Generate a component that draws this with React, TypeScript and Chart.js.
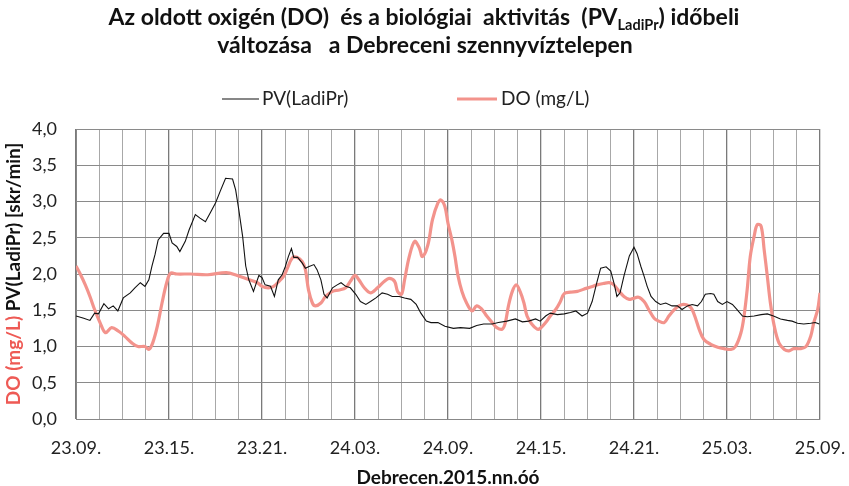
import React, { useEffect, useRef } from 'react';
import { Chart, registerables } from 'chart.js';

Chart.register(...registerables);

// ---------- data ----------
const xTickLabels = ['23.09.', '23.15.', '23.21.', '24.03.', '24.09.', '24.15.', '24.21.', '25.03.', '25.09.'];
const yTickValues = [0, 0.5, 1, 1.5, 2, 2.5, 3, 3.5, 4];

const titleLine1Before = 'Az oldott oxigén (DO)  és a biológiai  aktivitás  (PV';
const titleLine1Sub = 'LadiPr';
const titleLine1After = ') időbeli';
const titleLine2 = 'változása   a Debreceni szennyvíztelepen';
const yTitleRed = 'DO (mg/L)';
const yTitleBlack = ' PV(LadiPr) [skr/min]';
const xTitle = 'Debrecen.2015.nn.óó';
const seriesNames = ['PV(LadiPr)', 'DO (mg/L)'];

// hours elapsed since 23.09.
const pvHours = [0, 0.5, 0.9, 1.2, 1.45, 1.8, 2.1, 2.4, 2.7, 3.05, 3.5, 3.8, 4.15, 4.45, 4.7, 4.9, 5.1, 5.3, 5.65, 6.0, 6.2, 6.5, 6.7, 7.05, 7.3, 7.7, 8.0, 8.35, 8.7, 9.0, 9.3, 9.65, 10.1, 10.3, 10.5, 10.75, 10.95, 11.15, 11.45, 11.7, 11.8, 12.0, 12.2, 12.55, 12.8, 13.05, 13.3, 13.5, 13.7, 13.9, 14.05, 14.3, 14.6, 14.8, 15.0, 15.35, 15.55, 15.8, 16.0, 16.2, 16.55, 16.85, 17.1, 17.4, 17.7, 18.05, 18.35, 18.7, 19.0, 19.35, 19.75, 20.1, 20.4, 20.85, 21.2, 21.6, 21.95, 22.25, 22.6, 22.9, 23.35, 23.8, 24.35, 24.8, 25.4, 25.85, 26.3, 26.85, 27.25, 27.8, 28.35, 28.8, 29.2, 29.65, 29.95, 30.3, 30.6, 31.05, 31.5, 31.9, 32.25, 32.65, 33.0, 33.3, 33.6, 33.85, 34.2, 34.5, 34.7, 34.9, 35.1, 35.35, 35.7, 36.0, 36.2, 36.45, 36.65, 36.85, 37.1, 37.4, 37.7, 38.05, 38.45, 38.8, 39.1, 39.45, 39.75, 40.1, 40.35, 40.6, 40.95, 41.15, 41.4, 41.7, 42.0, 42.35, 42.65, 43.0, 43.3, 43.75, 44.2, 44.6, 45.0, 45.45, 45.9, 46.2, 46.55, 46.95, 47.4, 47.7, 47.95];
const pvValues = [1.42, 1.39, 1.36, 1.46, 1.45, 1.59, 1.52, 1.56, 1.49, 1.67, 1.74, 1.81, 1.88, 1.83, 1.92, 2.11, 2.27, 2.47, 2.56, 2.56, 2.43, 2.38, 2.31, 2.45, 2.61, 2.82, 2.77, 2.72, 2.86, 2.98, 3.14, 3.32, 3.31, 3.16, 2.89, 2.52, 2.11, 1.92, 1.76, 1.92, 1.98, 1.95, 1.85, 1.83, 1.69, 1.92, 1.99, 2.1, 2.24, 2.35, 2.23, 2.23, 2.15, 2.08, 2.1, 2.13, 2.06, 1.92, 1.72, 1.67, 1.81, 1.85, 1.88, 1.83, 1.81, 1.72, 1.62, 1.58, 1.62, 1.67, 1.74, 1.72, 1.69, 1.69, 1.67, 1.65, 1.58, 1.46, 1.35, 1.33, 1.33, 1.28, 1.25, 1.26, 1.25, 1.29, 1.31, 1.31, 1.33, 1.35, 1.38, 1.34, 1.35, 1.38, 1.35, 1.42, 1.46, 1.44, 1.45, 1.47, 1.49, 1.42, 1.46, 1.62, 1.88, 2.08, 2.1, 2.04, 1.88, 1.69, 1.74, 1.97, 2.25, 2.37, 2.28, 2.1, 1.97, 1.83, 1.69, 1.62, 1.58, 1.6, 1.56, 1.56, 1.51, 1.56, 1.58, 1.56, 1.62, 1.72, 1.73, 1.72, 1.62, 1.58, 1.62, 1.58, 1.51, 1.42, 1.41, 1.42, 1.44, 1.45, 1.42, 1.38, 1.36, 1.35, 1.32, 1.31, 1.32, 1.33, 1.31];

const doHours = [0, 0.25, 0.6, 0.9, 1.2, 1.55, 1.9, 2.3, 2.75, 3.15, 3.6, 4.0, 4.45, 4.7, 4.95, 5.25, 5.55, 5.85, 6.1, 6.5, 7.4, 8.5, 9.7, 10.4, 11.05, 11.7, 12.0, 12.4, 12.75, 13.1, 13.4, 13.6, 13.95, 14.25, 14.6, 14.8, 15.0, 15.25, 15.45, 15.8, 16.1, 16.55, 17.0, 17.4, 17.7, 18.0, 18.25, 18.6, 19.0, 19.45, 19.9, 20.2, 20.55, 20.75, 21.0, 21.2, 21.5, 21.85, 22.15, 22.35, 22.7, 23.0, 23.35, 23.55, 23.8, 24.0, 24.25, 24.45, 24.65, 24.9, 25.2, 25.55, 25.85, 26.2, 26.5, 26.85, 27.15, 27.5, 27.7, 27.9, 28.15, 28.4, 28.65, 28.9, 29.1, 29.4, 29.75, 29.95, 30.3, 30.6, 30.95, 31.25, 31.5, 31.9, 32.35, 32.75, 33.2, 33.6, 34.05, 34.4, 34.7, 35.05, 35.35, 35.7, 35.9, 36.3, 36.65, 36.95, 37.3, 37.6, 37.95, 38.25, 38.6, 38.9, 39.2, 39.55, 39.75, 40.0, 40.2, 40.5, 40.95, 41.4, 41.8, 42.25, 42.55, 42.9, 43.1, 43.3, 43.5, 43.75, 43.95, 44.2, 44.4, 44.6, 44.8, 45.05, 45.35, 45.7, 46.0, 46.3, 46.75, 47.1, 47.4, 47.6, 47.85, 48.0];
const doValues = [2.11, 2.01, 1.85, 1.69, 1.51, 1.33, 1.19, 1.26, 1.21, 1.14, 1.05, 1.0, 1.0, 0.96, 1.05, 1.28, 1.6, 1.88, 2.01, 2.0, 2.0, 1.99, 2.02, 1.98, 1.93, 1.88, 1.83, 1.81, 1.83, 1.9, 1.97, 2.06, 2.22, 2.23, 2.17, 2.06, 1.78, 1.6, 1.56, 1.6, 1.69, 1.76, 1.78, 1.81, 1.9, 1.98, 1.92, 1.81, 1.74, 1.81, 1.9, 1.94, 1.9, 1.76, 1.72, 1.92, 2.24, 2.45, 2.36, 2.24, 2.4, 2.75, 2.98, 3.02, 2.93, 2.7, 2.47, 2.24, 1.97, 1.76, 1.6, 1.49, 1.56, 1.51, 1.42, 1.33, 1.26, 1.24, 1.33, 1.56, 1.76, 1.85, 1.76, 1.6, 1.42, 1.31, 1.24, 1.25, 1.33, 1.42, 1.51, 1.62, 1.73, 1.75, 1.76, 1.79, 1.82, 1.85, 1.87, 1.88, 1.85, 1.76, 1.69, 1.65, 1.66, 1.68, 1.62, 1.51, 1.39, 1.35, 1.33, 1.42, 1.51, 1.56, 1.58, 1.56, 1.51, 1.37, 1.24, 1.1, 1.03, 0.99, 0.97, 0.96, 1.0, 1.19, 1.42, 1.78, 2.24, 2.52, 2.68, 2.66, 2.33, 1.97, 1.6, 1.28, 1.05, 0.96, 0.94, 0.97, 0.97, 1.0, 1.14, 1.33, 1.51, 1.74];

// ---------- styling ----------
const FONT = 'Lato';
const PV_COLOR = '#111111';
const DO_COLOR = '#F3938C';
const DO_TITLE_COLOR = '#EE5A55';

const decorPlugin = {
  id: 'decor',
  afterDraw(chart: any) {
    const ctx: CanvasRenderingContext2D = chart.ctx;
    ctx.save();
    ctx.textBaseline = 'middle';
    ctx.fillStyle = '#111';

    // title line 1 with subscript
    const big = `bold 23px ${FONT}`;
    const small = `bold 14.5px ${FONT}`;
    ctx.font = big;
    const wA = ctx.measureText(titleLine1Before).width;
    const wC = ctx.measureText(titleLine1After).width;
    ctx.font = small;
    const wB = ctx.measureText(titleLine1Sub).width;
    let x = 424 - (wA + wB + wC) / 2;
    const y1 = 18;
    ctx.textAlign = 'left';
    ctx.font = big;
    ctx.fillText(titleLine1Before, x, y1);
    x += wA;
    ctx.font = small;
    ctx.fillText(titleLine1Sub, x, y1 + 7);
    x += wB;
    ctx.font = big;
    ctx.fillText(titleLine1After, x, y1);

    ctx.textAlign = 'center';
    ctx.fillText(titleLine2, 425, 46);

    // legend
    const ly = 99;
    ctx.strokeStyle = PV_COLOR;
    ctx.lineWidth = 1.2;
    ctx.beginPath();
    ctx.moveTo(222, ly);
    ctx.lineTo(259, ly);
    ctx.stroke();
    ctx.strokeStyle = DO_COLOR;
    ctx.lineWidth = 3;
    ctx.beginPath();
    ctx.moveTo(457, ly);
    ctx.lineTo(497, ly);
    ctx.stroke();
    ctx.font = `19px ${FONT}`;
    ctx.textAlign = 'left';
    ctx.fillStyle = '#222';
    ctx.fillText(seriesNames[0], 262, ly);
    ctx.fillText(seriesNames[1], 501, ly);

    // y-axis title (two colours, rotated)
    const area = chart.chartArea;
    const cy = (area.top + area.bottom) / 2;
    ctx.font = `bold 19px ${FONT}`;
    const w1 = ctx.measureText(yTitleRed).width;
    const w2 = ctx.measureText(yTitleBlack).width;
    ctx.translate(14, cy);
    ctx.rotate(-Math.PI / 2);
    ctx.textAlign = 'left';
    const sx = -(w1 + w2) / 2;
    ctx.fillStyle = DO_TITLE_COLOR;
    ctx.fillText(yTitleRed, sx, 0);
    ctx.fillStyle = '#111';
    ctx.fillText(yTitleBlack, sx + w1, 0);
    ctx.restore();
  },
};

export default function App() {
  const canvasRef = useRef<HTMLCanvasElement | null>(null);

  useEffect(() => {
    if (!canvasRef.current) return;
    const pvData = pvHours.map((h, i) => ({ x: h, y: pvValues[i] }));
    const doData = doHours.map((h, i) => ({ x: h, y: doValues[i] }));
    const isMajor = (v: number) => Math.abs(v / 6 - Math.round(v / 6)) < 1e-6;

    const chart = new Chart(canvasRef.current, {
      type: 'line',
      data: {
        datasets: [
          {
            label: seriesNames[0],
            data: pvData,
            borderColor: PV_COLOR,
            backgroundColor: PV_COLOR,
            borderWidth: 1.1,
            pointRadius: 0,
            tension: 0,
          },
          {
            label: seriesNames[1],
            data: doData,
            borderColor: DO_COLOR,
            backgroundColor: DO_COLOR,
            borderWidth: 3.2,
            pointRadius: 0,
            tension: 0.35,
          },
        ],
      },
      options: {
        animation: false,
        responsive: true,
        maintainAspectRatio: false,
        layout: { padding: { top: 129, left: 0, right: 29, bottom: 0 } },
        plugins: {
          legend: { display: false },
          title: { display: false },
          tooltip: { enabled: false },
        },
        scales: {
          x: {
            type: 'linear',
            min: 0,
            max: 48,
            afterFit: (scale: any) => {
              scale.height = 67;
              scale.paddingLeft = 0;
              scale.paddingRight = 0;
            },
            afterBuildTicks: (scale: any) => {
              const t = [];
              for (let i = 0; i <= 32; i++) t.push({ value: i * 1.5 });
              scale.ticks = t;
            },
            ticks: {
              autoSkip: false,
              maxRotation: 0,
              padding: 18,
              color: '#222',
              font: { family: FONT, size: 18 },
              callback: (v: any) => (isMajor(Number(v)) ? xTickLabels[Math.round(Number(v) / 6)] : ''),
            },
            grid: {
              drawTicks: false,
              color: (c: any) => (isMajor(c.tick.value) ? '#7a7a7a' : '#a8a8a8'),
              lineWidth: (c: any) => (isMajor(c.tick.value) ? 1.3 : 1),
            },
            border: { color: '#888', width: 1 },
            title: {
              display: true,
              text: xTitle,
              color: '#111',
              font: { family: FONT, size: 19, weight: 'bold' },
              padding: { top: 0, bottom: -3 },
            },
          },
          y: {
            type: 'linear',
            min: 0,
            max: 4,
            afterFit: (scale: any) => {
              scale.width = 76;
              scale.paddingTop = 0;
              scale.paddingBottom = 0;
            },
            afterBuildTicks: (scale: any) => {
              scale.ticks = yTickValues.map((v) => ({ value: v }));
            },
            ticks: {
              padding: 19,
              color: '#222',
              font: { family: FONT, size: 18 },
              callback: (v: any) => Number(v).toFixed(1).replace('.', ','),
            },
            grid: { drawTicks: false, color: '#8a8a8a', lineWidth: 1 },
            border: { color: '#888', width: 1 },
          },
        },
      },
      plugins: [decorPlugin],
    });
    return () => chart.destroy();
  }, []);

  return (
    <div style={{ position: 'fixed', left: 0, top: 0, width: 849, height: 486, background: '#fff' }}>
      <canvas ref={canvasRef} />
    </div>
  );
}
